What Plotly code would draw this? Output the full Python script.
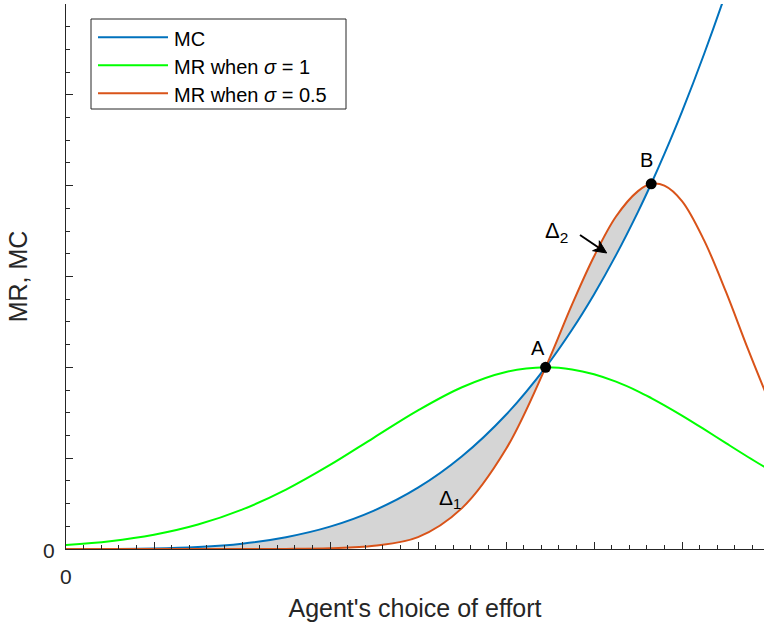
import plotly.graph_objects as go

# ---------------- data ----------------
effort = [0.0, 0.5, 1.0, 1.5, 2.0, 2.5, 3.0, 3.5, 4.0, 4.5, 5.0, 5.45,
          5.75, 6.0, 6.25, 6.5, 6.65, 6.8, 7.0, 7.25, 7.5, 7.75, 8.0]
mc = [0.0, 0.0005, 0.005, 0.022, 0.059, 0.130, 0.246, 0.423, 0.675, 1.021,
      1.478, 2.0, 2.414, 2.803, 3.235, 3.712, 4.021, 4.349, 4.815, 5.447,
      6.13, 6.88, 7.69]
mr_sigma1 = [0.044, 0.086, 0.157, 0.269, 0.433, 0.654, 0.925, 1.227, 1.526,
             1.781, 1.949, 2.0, 1.977, 1.924, 1.842, 1.736, 1.662, 1.582,
             1.469, 1.319, 1.165, 1.013, 0.867]
mr_sigma05 = [0.0, 0.0, 0.0, 0.0, 0.0, 0.001, 0.008, 0.035, 0.13, 0.45,
              1.10, 2.0, 2.69, 3.22, 3.66, 3.94, 4.02, 4.00, 3.83, 3.40,
              2.83, 2.20, 1.60]
point_x = [5.45, 6.65]
point_y = [2.0, 4.02]
point_labels = ["A", "B"]
series_names = ["MC", "MR when <i>σ</i> = 1", "MR when <i>σ</i> = 0.5"]
series_colors = ["#0072BD", "#00FF00", "#D95319"]
x_tick_vals = [0, 1, 2, 3, 4, 5, 6, 7]
y_tick_vals = [0, 1, 2, 3, 4, 5, 6]
origin_label = "0"
x_title = "Agent's choice of effort"
y_title = "MR, MC"

# ---------------- layout geometry ----------------
W, H = 764, 628
L, R, T, B = 66, 0, 4, 79
PW, PH = W - L - R, H - T - B
FONT = "Liberation Sans, Arial, Helvetica, sans-serif"
INK = "#262626"


def px_x(px):
    return (px - L) / PW


def px_y(py):
    return (H - B - py) / PH


idx_b = effort.index(point_x[1])

fig = go.Figure()

# shaded region between MC and MR(sigma=0.5) up to point B
fig.add_trace(go.Scatter(x=effort[:idx_b + 1], y=mc[:idx_b + 1], mode="lines",
                         line=dict(width=0, shape="spline", color="rgba(0,0,0,0)"),
                         showlegend=False, hoverinfo="skip"))
fig.add_trace(go.Scatter(x=effort[:idx_b + 1], y=mr_sigma05[:idx_b + 1], mode="lines",
                         line=dict(width=0, shape="spline", color="rgba(0,0,0,0)"),
                         fill="tonexty", fillcolor="rgb(213,213,213)",
                         showlegend=False, hoverinfo="skip"))

for ys, name, col in zip([mc, mr_sigma1, mr_sigma05], series_names, series_colors):
    fig.add_trace(go.Scatter(x=effort, y=ys, mode="lines", name=name,
                             line=dict(color=col, width=2, shape="spline"),
                             showlegend=False))

fig.add_trace(go.Scatter(x=point_x, y=point_y, mode="markers",
                         marker=dict(color="black", size=11),
                         showlegend=False))

annotations = []
# point labels
for xv, yv, lab, dx, dy in zip(point_x, point_y, point_labels, [-8, -5], [19, 24]):
    annotations.append(dict(x=xv, y=yv, text=lab, showarrow=False,
                            xshift=dx, yshift=dy,
                            font=dict(size=20, color="black", family=FONT)))
# delta labels
annotations.append(dict(x=4.358, y=0.556, text="Δ<sub>1</sub>", showarrow=False,
                        xanchor="center", yanchor="middle",
                        font=dict(size=21, color="black", family=FONT)))
annotations.append(dict(x=5.57, y=3.49, text="Δ<sub>2</sub>", showarrow=False,
                        xanchor="center", yanchor="middle",
                        font=dict(size=22, color="black", family=FONT)))
# origin tick labels
annotations.append(dict(xref="paper", yref="paper", x=px_x(49), y=px_y(550),
                        xanchor="center", yanchor="middle", text=origin_label,
                        showarrow=False, font=dict(size=21, color=INK, family=FONT)))
annotations.append(dict(xref="paper", yref="paper", x=px_x(66), y=px_y(576.5),
                        xanchor="center", yanchor="middle", text=origin_label,
                        showarrow=False, font=dict(size=21, color=INK, family=FONT)))

# manual legend
shapes = [dict(type="rect", xref="paper", yref="paper",
               x0=px_x(91), x1=px_x(346), y0=px_y(19), y1=px_y(109),
               line=dict(color=INK, width=1), fillcolor="white", layer="above")]
for i, (name, col) in enumerate(zip(series_names, series_colors)):
    yy = 37.3 + 28 * i
    shapes.append(dict(type="line", xref="paper", yref="paper",
                       x0=px_x(98), x1=px_x(168), y0=px_y(yy), y1=px_y(yy),
                       line=dict(color=col, width=2), layer="above"))
    annotations.append(dict(xref="paper", yref="paper", x=px_x(172), y=px_y(yy + 1.5),
                            xanchor="left", yanchor="middle", text=name, showarrow=False,
                            font=dict(size=20, color="black", family=FONT)))

# arrow pointing at delta-2 region (drawn as shapes, pixel geometry)
tail = (580.0, 235.0)
tip = (606.7, 253.0)
ux, uy = tip[0] - tail[0], tip[1] - tail[1]
ln = (ux ** 2 + uy ** 2) ** 0.5
ux, uy = ux / ln, uy / ln
nx, ny = -uy, ux
hl, hw, notch = 13.0, 6.0, 9.0
base = (tip[0] - hl * ux, tip[1] - hl * uy)
w1 = (base[0] + hw * nx, base[1] + hw * ny)
w2 = (base[0] - hw * nx, base[1] - hw * ny)
nt = (tip[0] - notch * ux, tip[1] - notch * uy)
shapes.append(dict(type="line", xref="paper", yref="paper",
                   x0=px_x(tail[0]), y0=px_y(tail[1]), x1=px_x(nt[0]), y1=px_y(nt[1]),
                   line=dict(color="black", width=2)))


def pt(p):
    return f"{px_x(p[0]):.5f},{px_y(p[1]):.5f}"


shapes.append(dict(type="path", xref="paper", yref="paper",
                   path=f"M{pt(tip)} L{pt(w1)} L{pt(nt)} L{pt(w2)} Z",
                   fillcolor="black", line=dict(color="black", width=1)))

fig.update_layout(
    width=W, height=H,
    margin=dict(l=L, r=R, t=T, b=B, autoexpand=False),
    paper_bgcolor="white", plot_bgcolor="white",
    font=dict(family=FONT, color=INK, size=21),
    showlegend=False,
    shapes=shapes,
    annotations=annotations,
    xaxis=dict(range=[0, PW / 88.0], showgrid=False, zeroline=False,
               showline=True, linecolor=INK, linewidth=1, automargin=False,
               tickmode="array", tickvals=x_tick_vals, showticklabels=False,
               ticks="inside", ticklen=7, tickcolor=INK, tickwidth=1,
               title=dict(text=x_title, standoff=50,
                          font=dict(size=25, color=INK, family=FONT)),
               minor=dict(ticks="inside", ticklen=4, tickcolor=INK,
                          tickmode="linear", tick0=0, dtick=0.2, showgrid=False)),
    yaxis=dict(range=[0, 6], showgrid=False, zeroline=False,
               showline=True, linecolor=INK, linewidth=1, automargin=False,
               tickmode="array", tickvals=y_tick_vals, showticklabels=False,
               ticks="inside", ticklen=7, tickcolor=INK, tickwidth=1,
               title=dict(text=y_title, standoff=30,
                          font=dict(size=25, color=INK, family=FONT)),
               minor=dict(ticks="inside", ticklen=4, tickcolor=INK,
                          tickmode="linear", tick0=0, dtick=0.25, showgrid=False)),
)

fig.write_html("out.html", config={"displayModeBar": False},
               post_script="document.body.style.margin='0';document.body.style.padding='0';")
